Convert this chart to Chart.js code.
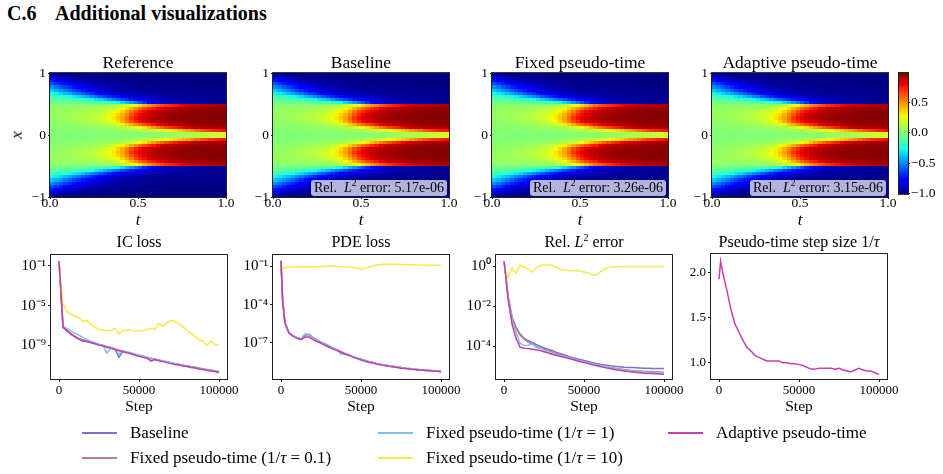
<!DOCTYPE html>
<html>
<head>
<meta charset="utf-8">
<script src="https://cdn.jsdelivr.net/npm/chart.js@4.4.0/dist/chart.umd.min.js"></script>
<style>
body { margin: 0; width: 943px; height: 474px; background: #fff; position: relative; overflow: hidden;
       font-family: "Liberation Serif", serif; color: #000; }
canvas, .abs { position: absolute; }
.ttl { position: absolute; width: 260px; text-align: center; white-space: nowrap; }
.err { position: absolute; background: rgba(255,255,255,0.7); border-radius: 3px; font-size: 14px;
       line-height: 16px; height: 16px; padding: 0 3px; white-space: nowrap; }
.leg-line { position: absolute; width: 35px; height: 1.6px; }
.leg-text { position: absolute; font-size: 17px; line-height: 20px; white-space: nowrap; }
</style>
</head>
<body>
<div class="abs" style="left:7px;top:1px;font-weight:bold;font-size:20px;line-height:24px">C.6</div>
<div class="abs" style="left:55px;top:1px;font-weight:bold;font-size:20px;line-height:24px">Additional visualizations</div>

<script>
// ---- heatmap field u(t, x) (symmetric in x, rows for x > 0) ----
const tCenters = [0.0125,0.0375,0.0625,0.0875,0.1125,0.1375,0.1625,0.1875,0.2125,0.2375,0.2625,0.2875,0.3125,0.3375,0.3625,0.3875,0.4125,0.4375,0.4625,0.4875,
                  0.5125,0.5375,0.5625,0.5875,0.6125,0.6375,0.6625,0.6875,0.7125,0.7375,0.7625,0.7875,0.8125,0.8375,0.8625,0.8875,0.9125,0.9375,0.9625,0.9875];
const xCenters = [0.025, 0.075, 0.125, 0.175, 0.225, 0.275, 0.325, 0.375, 0.425, 0.475,
                  0.525, 0.575, 0.625, 0.675, 0.725, 0.775, 0.825, 0.875, 0.925, 0.975];
const heatRows = [
  [.001,.001,.001,.002,.002,.002,.003,.003,.004,.004,.005,.006,.007,.008,.009,.011,.013,.015,.017,.02,.023,.027,.031,.036,.041,.047,.054,.062,.07,.08,.09,.1,.112,.125,.138,.15,.163,.176,.19,.2],
  [.006,.007,.008,.009,.01,.011,.013,.015,.017,.02,.023,.027,.031,.036,.042,.049,.057,.066,.077,.09,.105,.122,.142,.165,.19,.22,.255,.29,.33,.37,.42,.47,.52,.57,.62,.66,.7,.73,.755,.775],
  [.015,.017,.019,.021,.024,.027,.03,.034,.038,.043,.049,.056,.064,.074,.086,.1,.12,.145,.18,.22,.27,.33,.4,.47,.54,.6,.66,.71,.75,.79,.82,.845,.865,.88,.89,.9,.905,.91,.915,.92],
  [.027,.03,.033,.037,.041,.046,.052,.058,.065,.073,.09,.105,.125,.15,.19,.24,.3,.37,.44,.51,.58,.65,.71,.76,.8,.83,.855,.875,.89,.9,.91,.92,.925,.93,.935,.94,.945,.95,.95,.95],
  [.04,.044,.049,.055,.062,.07,.079,.09,.102,.116,.132,.15,.172,.23,.28,.35,.44,.54,.64,.72,.78,.82,.85,.87,.885,.9,.91,.92,.93,.935,.94,.945,.95,.955,.955,.96,.96,.96,.965,.965],
  [.05,.055,.062,.07,.078,.088,.1,.113,.128,.145,.165,.19,.22,.27,.32,.39,.46,.57,.69,.77,.81,.84,.865,.885,.9,.915,.925,.935,.94,.945,.95,.95,.955,.96,.96,.965,.965,.97,.97,.97],
  [.055,.06,.066,.073,.081,.09,.1,.112,.126,.142,.16,.183,.21,.255,.3,.36,.43,.52,.63,.72,.78,.82,.85,.875,.895,.91,.92,.93,.94,.945,.95,.95,.955,.96,.96,.965,.965,.97,.97,.97],
  [.05,.053,.057,.062,.068,.075,.083,.092,.103,.115,.13,.148,.17,.2,.24,.29,.36,.45,.55,.65,.73,.78,.82,.85,.875,.89,.905,.915,.925,.935,.94,.945,.95,.95,.955,.955,.96,.96,.96,.96],
  [.043,.044,.046,.048,.051,.054,.058,.063,.069,.076,.085,.097,.112,.135,.165,.21,.27,.34,.42,.5,.58,.65,.71,.76,.8,.83,.855,.875,.89,.9,.91,.915,.92,.925,.93,.935,.94,.94,.945,.945],
  [.02,.02,.02,.02,.021,.022,.023,.025,.027,.03,.034,.04,.048,.06,.08,.11,.15,.19,.23,.28,.34,.41,.48,.54,.6,.65,.69,.73,.76,.79,.81,.83,.85,.86,.87,.88,.89,.895,.9,.9],
  [-.035,-.04,-.045,-.05,-.055,-.06,-.065,-.07,-.08,-.09,-.1,-.12,-.14,-.17,-.2,-.26,-.32,-.39,-.45,-.52,-.58,-.66,-.73,-.79,-.83,-.86,-.88,-.9,-.91,-.92,-.93,-.94,-.945,-.95,-.955,-.96,-.96,-.965,-.965,-.97],
  [-.085,-.095,-.105,-.115,-.13,-.15,-.17,-.19,-.22,-.26,-.3,-.34,-.39,-.45,-.51,-.56,-.62,-.67,-.71,-.75,-.78,-.81,-.84,-.86,-.88,-.9,-.91,-.92,-.93,-.935,-.94,-.945,-.95,-.955,-.955,-.96,-.96,-.965,-.965,-.97],
  [-.15,-.17,-.19,-.22,-.25,-.29,-.33,-.38,-.43,-.48,-.53,-.59,-.64,-.68,-.72,-.76,-.79,-.82,-.85,-.87,-.88,-.895,-.905,-.915,-.925,-.93,-.935,-.94,-.945,-.95,-.955,-.955,-.96,-.96,-.965,-.965,-.97,-.97,-.97,-.97],
  [-.25,-.29,-.33,-.38,-.43,-.48,-.53,-.58,-.63,-.68,-.73,-.77,-.8,-.83,-.86,-.88,-.89,-.9,-.91,-.92,-.93,-.94,-.945,-.95,-.955,-.96,-.96,-.96,-.965,-.965,-.97,-.97,-.97,-.97,-.975,-.975,-.975,-.98,-.98,-.98],
  [-.36,-.41,-.46,-.51,-.56,-.62,-.67,-.71,-.75,-.79,-.82,-.85,-.87,-.89,-.9,-.915,-.925,-.935,-.945,-.95,-.955,-.96,-.965,-.97,-.97,-.97,-.975,-.975,-.975,-.98,-.98,-.98,-.98,-.98,-.98,-.98,-.98,-.98,-.98,-.98],
  [-.48,-.53,-.58,-.63,-.68,-.72,-.76,-.79,-.83,-.85,-.87,-.89,-.91,-.92,-.93,-.94,-.945,-.95,-.955,-.96,-.965,-.97,-.97,-.975,-.975,-.98,-.98,-.98,-.98,-.985,-.985,-.985,-.985,-.99,-.99,-.99,-.99,-.99,-.99,-.99],
  [-.6,-.65,-.7,-.74,-.78,-.81,-.84,-.86,-.88,-.9,-.91,-.92,-.93,-.94,-.95,-.955,-.96,-.965,-.97,-.97,-.975,-.98,-.98,-.98,-.985,-.985,-.985,-.99,-.99,-.99,-.99,-.99,-.99,-.99,-.99,-.99,-.99,-.99,-.99,-.99],
  [-.72,-.77,-.81,-.84,-.87,-.89,-.91,-.92,-.93,-.94,-.95,-.96,-.965,-.97,-.97,-.975,-.98,-.98,-.985,-.985,-.99,-.99,-.99,-.99,-.99,-.99,-.99,-.99,-.99,-.99,-.99,-.99,-.99,-.99,-.99,-.99,-.99,-.99,-.99,-.99],
  [-.84,-.87,-.9,-.92,-.935,-.95,-.96,-.965,-.97,-.975,-.98,-.98,-.985,-.985,-.99,-.99,-.99,-.99,-.99,-.99,-.99,-.99,-.99,-.99,-.99,-.99,-.99,-.99,-.99,-.99,-.99,-.99,-.99,-.99,-.99,-.99,-.99,-.99,-.99,-.99],
  [-.955,-.965,-.97,-.975,-.98,-.985,-.99,-.99,-.99,-.99,-.99,-.99,-.99,-.99,-.99,-.99,-.99,-.99,-.99,-.99,-.99,-.99,-.99,-.99,-.99,-.99,-.99,-.99,-.99,-.99,-.99,-.99,-.99,-.99,-.99,-.99,-.99,-.99,-.99,-.99]
];
const heatTitles = ['Reference', 'Baseline', 'Fixed pseudo-time', 'Adaptive pseudo-time'];
const relErrors = [null, '5.17e-06', '3.26e-06', '3.15e-06'];
const tTicks = [0, 0.5, 1];
const tTickLabels = ['0.0', '0.5', '1.0'];
const xTicks = [-1, 0, 1];
const xTickLabels = ['\u22121', '0', '1'];
const cbarTicks = [-1, -0.5, 0, 0.5];
const cbarTickLabels = ['\u22121.0', '\u22120.5', '0.0', '0.5'];
const V_MIN = -1, V_MAX = 0.98;

// ---- training curves (log10 of the value for the three log panels) ----
const steps = [0,1000,2500,5000,7500,10000,12500,15000,17500,20000,22500,25000,27500,30000,32500,35000,37500,40000,42500,45000,
               47500,50000,52500,55000,57500,60000,62500,65000,67500,70000,72500,75000,77500,80000,82500,85000,87500,90000,92500,95000,97500,100000];
const stepTicks = [0, 50000, 100000];

const icBaseline = [-0.5,-3.0,-7.15,-7.5,-7.85,-8.1,-8.35,-8.5,-8.65,-8.7,-8.8,-8.95,-9.05,-9.15,-9.25,-9.4,-10.2,-9.6,-9.7,-9.8,-9.95,-10.05,-10.15,-10.25,-10.35,-10.4,-10.5,-10.6,-10.7,-10.8,-10.9,-10.95,-11.05,-11.1,-11.2,-11.25,-11.35,-11.4,-11.5,-11.55,-11.6,-11.7];
const icFixed01  = [-0.5,-3.0,-7.15,-7.5,-7.85,-8.1,-8.35,-8.45,-8.6,-8.7,-8.8,-8.95,-9.0,-9.15,-9.25,-9.35,-9.5,-9.6,-9.7,-9.8,-9.9,-10.0,-10.1,-10.2,-10.3,-10.4,-10.5,-10.6,-10.65,-10.75,-10.85,-10.9,-11.0,-11.1,-11.15,-11.2,-11.3,-11.4,-11.45,-11.5,-11.6,-11.65];
const icFixed1   = [-0.5,-3.0,-7.1,-7.3,-7.55,-7.8,-8.0,-8.2,-8.4,-8.6,-8.75,-8.9,-9.0,-9.8,-9.2,-9.35,-9.9,-9.6,-9.65,-9.75,-9.9,-10.0,-10.1,-10.2,-10.3,-10.4,-10.5,-10.55,-10.65,-10.75,-10.85,-10.95,-11.0,-11.1,-11.2,-11.25,-11.35,-11.4,-11.45,-11.55,-11.6,-11.7];
const icFixed10  = [-0.5,-2.5,-4.8,-5.6,-5.85,-6.05,-6.25,-6.6,-6.5,-6.9,-7.2,-7.4,-7.45,-7.5,-7.5,-7.3,-7.85,-7.5,-7.5,-7.45,-7.6,-7.55,-7.5,-7.4,-7.3,-7.4,-6.8,-7.1,-6.7,-6.5,-6.6,-6.85,-7.15,-7.5,-7.8,-8.1,-8.45,-8.6,-9.0,-8.6,-8.9,-9.0];
const icAdaptive = [-0.5,-3.0,-7.2,-7.55,-7.9,-8.15,-8.4,-8.6,-8.6,-8.75,-8.85,-9.0,-9.05,-9.2,-9.3,-9.45,-9.55,-9.65,-9.75,-9.85,-10.0,-10.1,-10.2,-10.3,-10.6,-10.45,-10.55,-10.65,-10.75,-10.85,-10.95,-11.0,-11.1,-11.15,-11.25,-11.3,-11.4,-11.45,-11.55,-11.6,-11.65,-11.75];

const pdeBaseline = [-0.55,-3.6,-5.4,-6.2,-6.45,-6.6,-6.7,-6.35,-6.35,-6.6,-6.8,-6.95,-7.1,-7.25,-7.4,-7.55,-7.7,-7.85,-7.95,-8.1,-8.2,-8.3,-8.4,-8.5,-8.55,-8.65,-8.7,-8.75,-8.8,-8.85,-8.9,-8.95,-9.0,-9.03,-9.06,-9.1,-9.12,-9.15,-9.17,-9.2,-9.22,-9.25];
const pdeFixed01  = [-0.55,-3.6,-5.45,-6.2,-6.45,-6.6,-6.72,-6.4,-6.35,-6.6,-6.8,-6.95,-7.1,-7.25,-7.45,-7.55,-7.7,-7.85,-7.95,-8.1,-8.2,-8.3,-8.4,-8.5,-8.55,-8.65,-8.7,-8.75,-8.8,-8.85,-8.9,-8.95,-9.0,-9.05,-9.08,-9.1,-9.12,-9.15,-9.18,-9.2,-9.22,-9.25];
const pdeFixed1   = [-0.55,-3.6,-5.45,-6.2,-6.45,-6.6,-6.7,-6.3,-6.4,-6.6,-6.8,-6.95,-7.1,-7.3,-7.4,-7.55,-7.9,-7.85,-7.95,-8.1,-8.2,-8.3,-8.4,-8.5,-8.55,-8.65,-8.7,-8.75,-8.8,-8.85,-8.9,-8.95,-9.0,-9.02,-9.05,-9.08,-9.12,-9.15,-9.17,-9.2,-9.22,-9.27];
const pdeFixed10  = [-0.55,-1.15,-1.1,-1.05,-1.05,-1.03,-1.03,-1.02,-1.03,-1.02,-1.02,-1.0,-0.98,-0.95,-0.97,-1.0,-1.02,-1.03,-1.05,-1.08,-1.13,-1.2,-1.15,-1.05,-0.95,-0.88,-0.85,-0.83,-0.82,-0.82,-0.83,-0.84,-0.85,-0.86,-0.87,-0.88,-0.88,-0.89,-0.9,-0.9,-0.91,-0.92];
const pdeAdaptive = [-0.55,-3.7,-5.5,-6.25,-6.5,-6.65,-6.75,-6.55,-6.55,-6.75,-6.9,-7.05,-7.2,-7.35,-7.5,-7.62,-7.75,-7.9,-8.0,-8.15,-8.25,-8.35,-8.45,-8.55,-8.6,-8.7,-8.75,-8.8,-8.85,-8.9,-8.95,-9.0,-9.03,-9.06,-9.1,-9.12,-9.15,-9.18,-9.2,-9.22,-9.25,-9.3];

const relBaseline = [0.25,-0.4,-1.5,-2.55,-3.05,-3.4,-3.6,-3.72,-3.82,-3.92,-4.0,-4.08,-4.15,-4.22,-4.3,-4.37,-4.43,-4.5,-4.56,-4.62,-4.67,-4.72,-4.77,-4.82,-4.86,-4.9,-4.93,-4.96,-4.99,-5.01,-5.03,-5.05,-5.06,-5.07,-5.08,-5.09,-5.1,-5.1,-5.11,-5.11,-5.12,-5.12];
const relFixed01  = [0.25,-0.4,-1.5,-2.6,-3.1,-3.45,-3.65,-3.8,-3.9,-4.0,-4.08,-4.15,-4.22,-4.3,-4.36,-4.42,-4.48,-4.55,-4.6,-4.66,-4.72,-4.77,-4.82,-4.87,-4.92,-4.96,-5.0,-5.04,-5.08,-5.11,-5.14,-5.17,-5.19,-5.21,-5.23,-5.24,-5.25,-5.26,-5.27,-5.28,-5.29,-5.3];
const relFixed1   = [0.25,-0.4,-1.55,-2.7,-3.3,-3.85,-3.97,-3.95,-3.9,-4.05,-4.1,-4.2,-4.35,-4.35,-4.42,-4.47,-4.52,-4.57,-4.62,-4.68,-4.73,-4.78,-4.83,-4.88,-4.93,-4.97,-5.01,-5.05,-5.09,-5.13,-5.16,-5.19,-5.22,-5.24,-5.26,-5.28,-5.29,-5.3,-5.31,-5.32,-5.33,-5.33];
const relFixed10  = [0.25,-0.3,-0.58,-0.1,-0.35,0.05,-0.05,-0.15,-0.3,-0.1,0.02,0.05,0.05,0.04,-0.05,-0.15,-0.2,-0.22,-0.23,-0.24,-0.25,-0.3,-0.35,-0.42,-0.45,-0.3,-0.15,-0.08,-0.05,-0.04,-0.03,-0.03,-0.03,-0.03,-0.03,-0.03,-0.03,-0.03,-0.03,-0.03,-0.03,-0.03];
const relAdaptive = [0.25,-0.4,-1.6,-2.9,-3.6,-4.05,-4.1,-4.12,-4.15,-4.18,-4.22,-4.28,-4.33,-4.4,-4.45,-4.5,-4.55,-4.6,-4.65,-4.72,-4.77,-4.82,-4.87,-4.93,-4.97,-5.02,-5.06,-5.1,-5.14,-5.18,-5.21,-5.24,-5.27,-5.29,-5.31,-5.33,-5.35,-5.36,-5.37,-5.38,-5.39,-5.4];

const pseudoAdaptive = [1.93,2.13,1.99,1.8,1.59,1.43,1.34,1.25,1.17,1.13,1.08,1.06,1.04,1.02,1.02,1.02,1.02,1.0,1.0,0.99,0.99,0.98,0.97,0.95,0.93,0.93,0.94,0.94,0.94,0.94,0.93,0.94,0.92,0.91,0.9,0.92,0.94,0.92,0.91,0.91,0.89,0.87];

const seriesNames = ['Baseline', 'Fixed pseudo-time (1/<i>τ</i> = 0.1)', 'Fixed pseudo-time (1/<i>τ</i> = 1)',
                     'Fixed pseudo-time (1/<i>τ</i> = 10)', 'Adaptive pseudo-time'];
const seriesColors = ['#7474cc', '#bf7f7f', '#7fc1e6', '#f7e84a', '#c440ae'];

const icTickValues = [1e-1, 1e-5, 1e-9];      const icTickLabels = ['10\u207b\u00b9', '10\u207b\u2075', '10\u207b\u2079'];
const pdeTickValues = [1e-1, 1e-4, 1e-7];     const pdeTickLabels = ['10\u207b\u00b9', '10\u207b\u2074', '10\u207b\u2077'];
const relTickValues = [1, 1e-2, 1e-4];        const relTickLabels = ['10\u2070', '10\u207b\u00b2', '10\u207b\u2074'];
const pseudoTickValues = [1.0, 1.5, 2.0];     const pseudoTickLabels = ['1.0', '1.5', '2.0'];

// ---------------------------------------------------------------------------
Chart.defaults.font.family = '"Liberation Serif", serif';
Chart.defaults.color = '#000';
const AXIS = '#222';

const JET_R = [[0, 0], [0.35, 0], [0.66, 1], [0.89, 1], [1, 0.5]];
const JET_G = [[0, 0], [0.125, 0], [0.375, 1], [0.64, 1], [0.91, 0], [1, 0]];
const JET_B = [[0, 0.5], [0.11, 1], [0.34, 1], [0.65, 0], [1, 0]];
function jetChannel(n, pts) {
    for (let i = 1; i < pts.length; i++) {
        if (n <= pts[i][0]) {
            const [x0, y0] = pts[i - 1], [x1, y1] = pts[i];
            return y0 + (y1 - y0) * (n - x0) / (x1 - x0);
        }
    }
    return pts[pts.length - 1][1];
}
function jet(u) {
    const n = Math.max(0, Math.min(1, (u - V_MIN) / (V_MAX - V_MIN)));
    const c = p => Math.round(255 * jetChannel(n, p));
    return `rgb(${c(JET_R)},${c(JET_G)},${c(JET_B)})`;
}

const framePlugin = {
    id: 'frame',
    afterDatasetsDraw(chart) {
        const { ctx, chartArea: a } = chart;
        ctx.save();
        ctx.strokeStyle = AXIS;
        ctx.lineWidth = 1;
        ctx.strokeRect(a.left - 0.5, a.top - 0.5, a.right - a.left + 1, a.bottom - a.top + 1);
        ctx.restore();
    }
};

// cells of the field, placed with the chart's own x/y scales
const heatmapPlugin = {
    id: 'heatmap',
    beforeDatasetsDraw(chart) {
        const { ctx, scales: { x, y } } = chart;
        const ht = (tCenters[1] - tCenters[0]) / 2, hx = (xCenters[1] - xCenters[0]) / 2;
        ctx.save();
        xCenters.forEach((xc, r) => {
            [xc, -xc].forEach(xv => {
                const y0 = Math.round(y.getPixelForValue(xv + hx));
                const y1 = Math.round(y.getPixelForValue(xv - hx));
                tCenters.forEach((tc, c) => {
                    const x0 = Math.round(x.getPixelForValue(tc - ht));
                    const x1 = Math.round(x.getPixelForValue(tc + ht));
                    ctx.fillStyle = jet(heatRows[r][c]);
                    ctx.fillRect(x0, y0, x1 - x0, y1 - y0);
                });
            });
        });
        ctx.restore();
    }
};

const colorbarPlugin = {
    id: 'colorbar',
    beforeDatasetsDraw(chart) {
        const { ctx, chartArea: a, scales: { y } } = chart;
        ctx.save();
        for (let v = V_MIN; v < V_MAX; v += 0.01) {
            const y0 = Math.round(y.getPixelForValue(Math.min(v + 0.01, V_MAX)));
            const y1 = Math.round(y.getPixelForValue(v));
            ctx.fillStyle = jet(v + 0.005);
            ctx.fillRect(a.left, y0, a.right - a.left, Math.max(1, y1 - y0));
        }
        ctx.restore();
    }
};

function addCanvas(left, top, w, h) {
    const c = document.createElement('canvas');
    c.width = w; c.height = h;
    c.style.left = left + 'px'; c.style.top = top + 'px';
    c.style.width = w + 'px'; c.style.height = h + 'px';
    document.body.appendChild(c);
    return c;
}
function addText(cls, left, top, html, style) {
    const d = document.createElement('div');
    d.className = cls;
    d.style.left = left + 'px'; d.style.top = top + 'px';
    if (style) Object.assign(d.style, style);
    d.innerHTML = html;
    document.body.appendChild(d);
    return d;
}
const tickGrid = len => ({ display: true, drawOnChartArea: false, drawTicks: true, tickLength: len, color: AXIS });
const fixTicks = vals => s => { s.ticks = vals.map(v => ({ value: v })); };

// ---- top row: heatmaps ----
const heatLefts = [50, 273, 492, 712];
const HEAT_W = 176, HEAT_TOP = 73, HEAT_BOTTOM = 197;
heatLefts.forEach((pl, i) => {
    const cv = addCanvas(pl - 42, HEAT_TOP - 10, 42 + HEAT_W + 24, HEAT_BOTTOM - HEAT_TOP + 10 + 20);
    new Chart(cv, {
        type: 'scatter',
        data: { datasets: [] },
        options: {
            responsive: false, animation: false,
            layout: { padding: { top: 10, right: 24, left: 0, bottom: 0 } },
            plugins: { legend: { display: false }, tooltip: { enabled: false } },
            scales: {
                x: {
                    type: 'linear', min: 0, max: 1,
                    afterBuildTicks: fixTicks(tTicks),
                    afterFit: s => { s.height = 20; },
                    ticks: { callback: (v, k) => tTickLabels[k], font: { size: 13.5, lineHeight: 1 }, padding: -2, maxRotation: 0 },
                    grid: tickGrid(2), border: { display: false }
                },
                y: {
                    type: 'linear', min: -1, max: 1,
                    afterBuildTicks: fixTicks(xTicks),
                    afterFit: s => { s.width = 42; },
                    ticks: { callback: (v, k) => xTickLabels[k], font: { size: 13.5 }, padding: 2 },
                    grid: tickGrid(2), border: { display: false }
                }
            }
        },
        plugins: [heatmapPlugin, framePlugin]
    });
    addText('ttl', pl + HEAT_W / 2 - 130, 52, heatTitles[i], { fontSize: '17.5px', lineHeight: '20px' });
    addText('ttl', pl + HEAT_W / 2 - 130, 210, '<i>t</i>', { fontSize: '17px', lineHeight: '20px' });
    if (relErrors[i]) {
        const d = addText('err', 0, HEAT_BOTTOM - 17, 'Rel.&nbsp; <i>L</i><sup style="font-size:9.5px;line-height:0">2</sup> error: ' + relErrors[i]);
        d.style.left = (pl + HEAT_W - 2 - d.offsetWidth) + 'px';
    }
});
addText('abs', 13, 125, '<i>x</i>', { fontSize: '17px', lineHeight: '20px', transform: 'rotate(-90deg)' });

// colorbar
{
    const cv = addCanvas(889, HEAT_TOP - 10, 54, HEAT_BOTTOM - HEAT_TOP + 16);
    new Chart(cv, {
        type: 'scatter',
        data: { datasets: [] },
        options: {
            responsive: false, animation: false,
            layout: { padding: { top: 10, right: 0, left: 10, bottom: 6 } },
            plugins: { legend: { display: false }, tooltip: { enabled: false } },
            scales: {
                x: { display: false, min: 0, max: 1 },
                y: {
                    position: 'right', min: V_MIN, max: V_MAX,
                    afterBuildTicks: fixTicks(cbarTicks),
                    afterFit: s => { s.width = 35; },
                    ticks: { callback: (v, k) => cbarTickLabels[k], font: { size: 13.5 }, padding: 1 },
                    grid: tickGrid(2), border: { display: false }
                }
            }
        },
        plugins: [colorbarPlugin, framePlugin]
    });
}

// ---- bottom row: training curves ----
const lossLefts = [51, 273, 496, 711];
const LOSS_W = 176, LOSS_TOP = 254, LOSS_BOTTOM = 379;
const lossPanels = [
    { title: 'IC loss', log: true, range: [-12.4, 0.1], ticks: icTickValues, labels: icTickLabels,
      series: [icBaseline, icFixed01, icFixed1, icFixed10, icAdaptive] },
    { title: 'PDE loss', log: true, range: [-9.85, -0.1], ticks: pdeTickValues, labels: pdeTickLabels,
      series: [pdeBaseline, pdeFixed01, pdeFixed1, pdeFixed10, pdeAdaptive] },
    { title: 'Rel. <i>L</i><sup style="font-size:10px;line-height:0">2</sup> error', log: true, range: [-5.64, 0.55],
      ticks: relTickValues, labels: relTickLabels,
      series: [relBaseline, relFixed01, relFixed1, relFixed10, relAdaptive] },
    { title: 'Pseudo-time step size 1/<i>τ</i>', log: false, range: [0.82, 2.21], ticks: pseudoTickValues, labels: pseudoTickLabels,
      series: [null, null, null, null, pseudoAdaptive] }
];

lossPanels.forEach((p, i) => {
    const pl = lossLefts[i];
    const cv = addCanvas(pl - 50, LOSS_TOP - 10, 50 + LOSS_W + 30, LOSS_BOTTOM - LOSS_TOP + 10 + 37);
    const datasets = [];
    p.series.forEach((vals, s) => {
        if (!vals) return;
        datasets.push({
            label: seriesNames[s],
            data: steps.map((st, k) => ({ x: st, y: p.log ? Math.pow(10, vals[k]) : vals[k] })),
            borderColor: seriesColors[s], borderWidth: 1.5,
            pointRadius: 0, tension: 0, fill: false,
            order: 4 - s
        });
    });
    new Chart(cv, {
        type: 'line',
        data: { datasets },
        options: {
            responsive: false, animation: false,
            layout: { padding: { top: 10, right: 30, left: 0, bottom: 0 } },
            plugins: { legend: { display: false }, tooltip: { enabled: false } },
            scales: {
                x: {
                    type: 'linear', min: -5000, max: 105000,
                    afterBuildTicks: fixTicks(stepTicks),
                    afterFit: s => { s.height = 37; },
                    ticks: { callback: v => String(v), font: { size: 13 }, padding: 1, maxRotation: 0 },
                    grid: tickGrid(3), border: { display: false },
                    title: { display: true, text: 'Step', font: { size: 15.5 }, padding: 0 }
                },
                y: {
                    type: p.log ? 'logarithmic' : 'linear',
                    min: p.log ? Math.pow(10, p.range[0]) : p.range[0],
                    max: p.log ? Math.pow(10, p.range[1]) : p.range[1],
                    afterBuildTicks: fixTicks(p.ticks),
                    afterFit: s => { s.width = 50; },
                    ticks: { callback: (v, k) => p.labels[k], font: { size: p.log ? 15 : 13 }, padding: 2 },
                    grid: tickGrid(3), border: { display: false }
                }
            }
        },
        plugins: [framePlugin]
    });
    addText('ttl', pl + LOSS_W / 2 - 130, 233, p.title, { fontSize: '16px', lineHeight: '18px' });
});

// ---- shared legend ----
const legendCols = [82, 378, 668];
const legendRows = [433, 458];
const legendSlots = [[0, 0], [0, 1], [1, 0], [1, 1], [2, 0]];
seriesNames.forEach((name, s) => {
    const [c, r] = legendSlots[s];
    const line = addText('leg-line', legendCols[c], legendRows[r] - 1, '');
    line.style.background = seriesColors[s];
    addText('leg-text', legendCols[c] + 48, legendRows[r] - 10, name);
});
</script>
</body>
</html>
